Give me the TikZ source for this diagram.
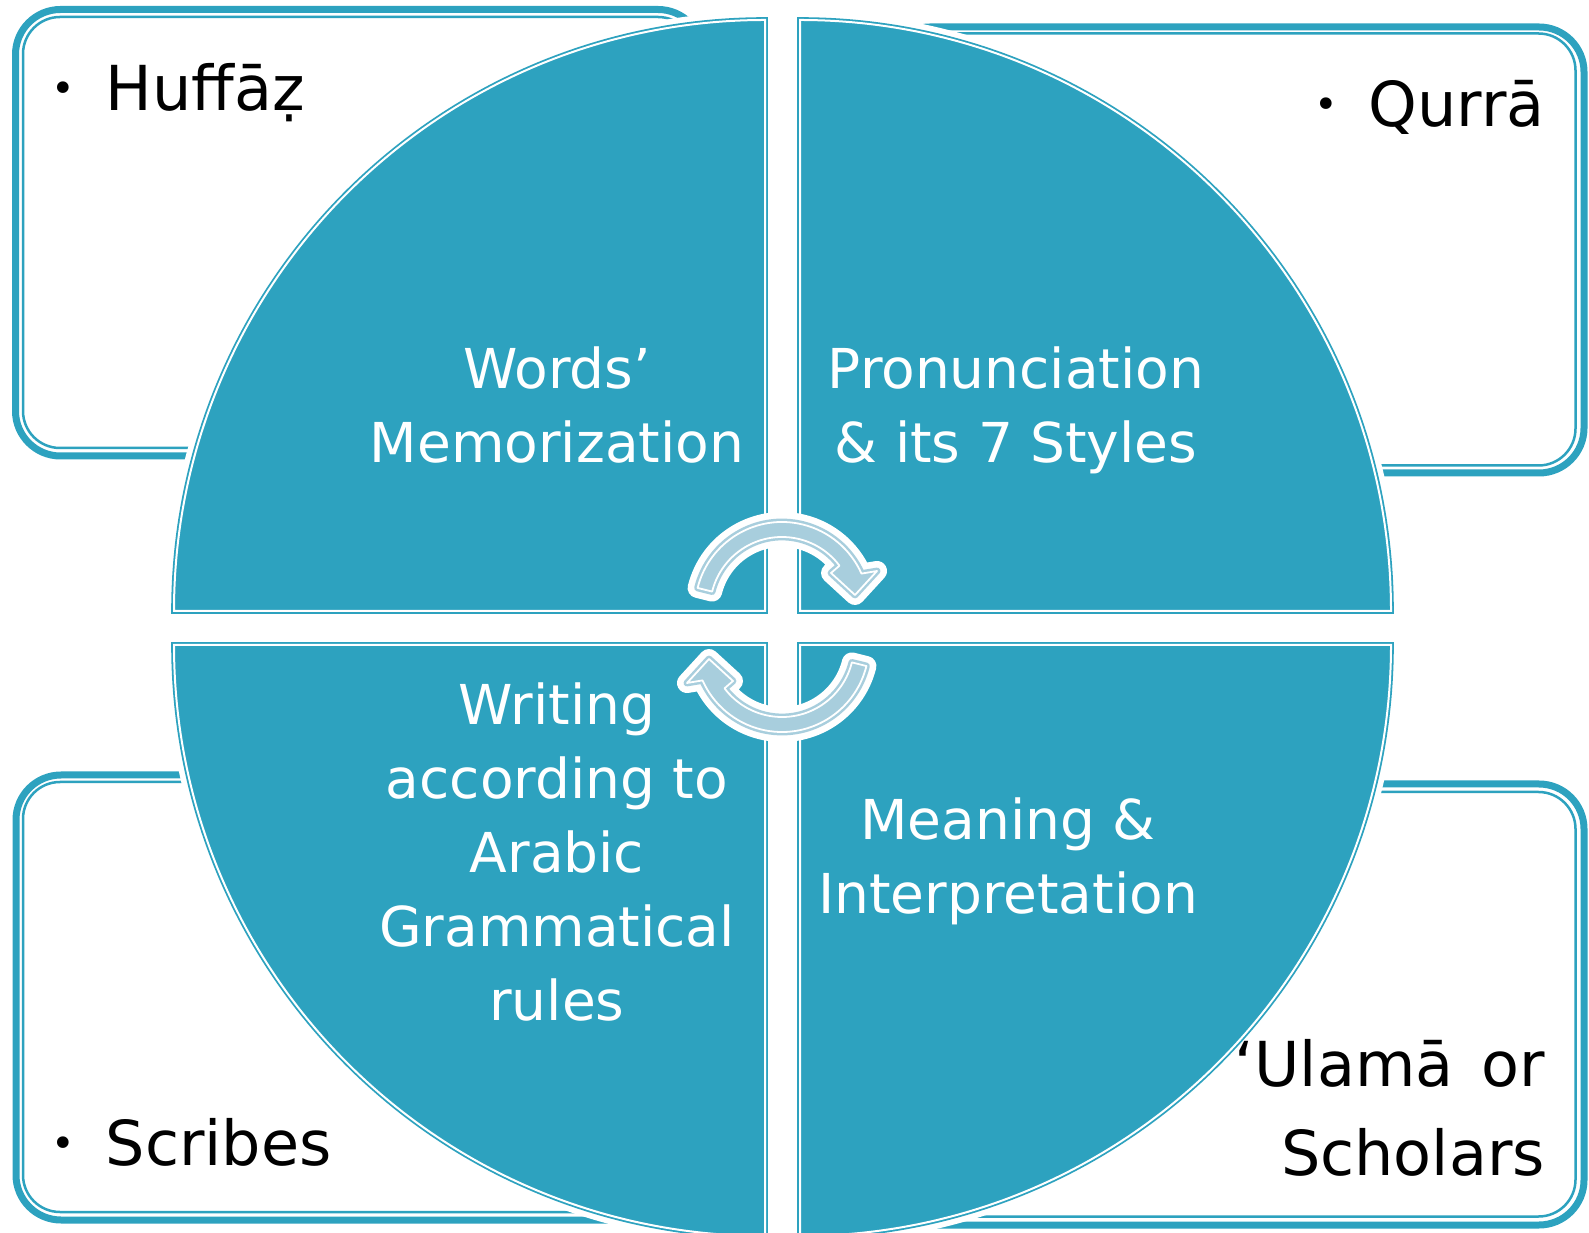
\documentclass[tikz,border=0pt]{standalone}
\usepackage{fontspec}
\setmainfont{DejaVu Sans}
\usetikzlibrary{calc}
\definecolor{qteal}{HTML}{2DA2BF}
\definecolor{qarrow}{HTML}{A8CEDD}
\newcommand\boxfont{\fontsize{62}{89}\selectfont}
\newcommand\secfont{\fontsize{55}{74}\selectfont}
\newcommand\bul{\raisebox{8pt}{\fontsize{40}{40}\selectfont\textbullet}\hspace{31pt}}
\tikzset{
  frameout/.style={draw=qteal,fill=white,line width=7pt,rounded corners=45pt},
  framein/.style={draw=qteal,line width=2.5pt,rounded corners=37pt},
  sector/.style={fill=qteal,draw=qteal,double=white,double distance=2pt,line width=1.8pt,
    preaction={draw=white,line width=17pt}},
  cyclearrow/.style={fill=qarrow,draw=qarrow,double=white,double distance=1.8pt,line width=2.5pt,
    line join=round,preaction={draw=white,line width=20pt,line join=round}},
  boxtext/.style={inner sep=0pt,font=\boxfont,text=black},
  sectext/.style={inner sep=0pt,font=\secfont,text=white,align=center}
}
\begin{document}
\begin{tikzpicture}[x=1pt,y=1pt]
          \useasboundingbox (0,0) rectangle (1589,1232);
          \clip (0,0) rectangle (1589,1232);
          \path[frameout] (15.5,776) rectangle (703,1222.5);
          \path[framein] (23,784) rectangle (695,1215);
          \path[frameout] (885,759) rectangle (1584,1205);
          \path[framein] (893,766.5) rectangle (1575.5,1198.5);
          \path[frameout] (16,12) rectangle (703,457);
          \path[framein] (23,20) rectangle (695,450);
          \path[frameout] (885,7) rectangle (1584,448);
          \path[framein] (893,15.5) rectangle (1575.5,440);
          \foreach \cx/\cy/\a in {765/621/90, 800/621/0, 765/587/180, 800/587/270}
            \path[sector] (\cx,\cy) -- ++(\a:591) arc[start angle=\a,delta angle=90,radius=591] -- cycle;
          \foreach \turn in {0,180}{
            \begin{scope}[rotate around={\turn:(782,605)},shift={(782,623)}]
              \path[cyclearrow] (166:87) arc[start angle=166,end angle=24,radius=87]
                -- (95,38) -- (73,14) -- (49,36) -- (37:72)
                arc[start angle=37,end angle=166,radius=72] -- cycle;
            \end{scope}
          }
          \node[boxtext,anchor=base west] (huffaz) at (51,1121) {\bul Huffāẓ};
          \node[boxtext,anchor=base east] (qurra) at (1545,1105) {\bul Qurrā};
          \node[boxtext,anchor=base west] (scribes) at (51,67) {\bul Scribes};
          \node[boxtext,anchor=east,align=right] (ulama) at (1545,124) {‘Ulamā\hspace{28pt}or\\Scholars};
          \node[sectext] (words) at (557,827) {Words’\\Memorization};
          \node[sectext] (pron) at (1016,822) {Pronunciation\\\& its 7 Styles};
          \node[sectext] (writing) at (557,380) {Writing\\according to\\Arabic\\Grammatical\\rules};
          \node[sectext] (meaning) at (1008,371) {Meaning \&\\Interpretation};
        \end{tikzpicture}
\end{document}
